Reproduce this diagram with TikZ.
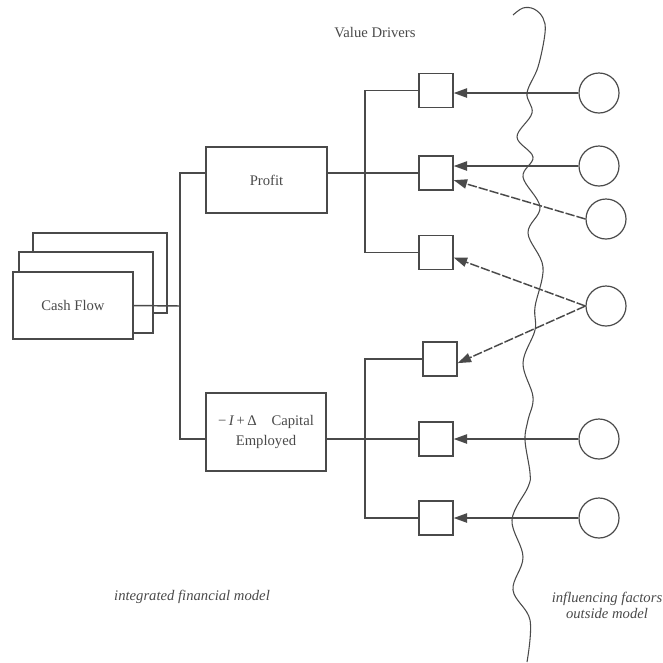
\documentclass[tikz,border=0pt]{standalone}
\usepackage{fontspec}
\setmainfont{Liberation Serif}
\usepackage{tikz}
\usetikzlibrary{arrows.meta,positioning,calc}
\definecolor{ink}{HTML}{4A4A4A}
\tikzset{
  >={Triangle[length=10pt,width=7pt]},
  box/.style={draw=ink,line width=1.1pt,fill=white,align=center,inner sep=2pt},
  vbox/.style={box,minimum width=25.5pt,minimum height=25.5pt,inner sep=0pt},
  fac/.style={draw=ink,line width=0.9pt,circle,minimum size=30pt,inner sep=0pt},
  wire/.style={draw=ink,line width=1.1pt},
  arr/.style={->,draw=ink,line width=1.1pt},
  darr/.style={->,draw=ink,line width=1.1pt,dash pattern=on 7pt off 1.5pt},
  lab/.style={font=\fontsize{11}{14.5}\selectfont,align=center,text=ink},
  ilab/.style={font=\fontsize{11}{12}\selectfont\itshape,align=center,text=ink},
}

\begin{document}
\begin{tikzpicture}[x=0.75pt,y=-0.75pt,every node/.style={lab}]
\useasboundingbox (0,0) rectangle (663,662);
% cash flow stack
\node[box,minimum width=100.5pt,minimum height=60pt] (cf3) at (100,273) {};
\node[box,minimum width=100.5pt,minimum height=60.75pt] (cf2) at (86,292.5) {};
\node[box,minimum width=90pt,minimum height=50.25pt] (cf) at (73,305.5) {Cash Flow};
\node[box,minimum width=90.75pt,minimum height=49.5pt] (pf) at (266.5,180) {Profit};
\node[box,minimum width=90pt,minimum height=58.5pt] (ce) at (266,432) {−\,\textit{I}\,+\,Δ\quad Capital\\Employed};
% value drivers
\node[vbox] (sq1) at (436,90.5) {};
\node[vbox] (sq2) at (436,173) {};
\node[vbox] (sq3) at (436,252.5) {};
\node[vbox] (sq4) at (440,359) {};
\node[vbox] (sq5) at (436,439) {};
\node[vbox] (sq6) at (436,518) {};
% outside factors
\node[fac] (c1) at (599,93) {};
\node[fac] (c2) at (599,166) {};
\node[fac] (c3) at (606,219) {};
\node[fac] (c4) at (606,306) {};
\node[fac] (c5) at (599,439) {};
\node[fac] (c6) at (599,518) {};
\coordinate (j0) at (180,306);
\coordinate (tu) at (365,173);
\coordinate (tl) at (365,439);
\draw[wire] (cf.east) -- (j0);
\draw[wire] ($(pf.west)+(0,-7)$) -| (j0) |- ($(ce.west)+(0,7)$);
\draw[wire] ($(pf.east)+(0,-7)$) -- (sq2.west);
\draw[wire] (sq1.west) -| (tu) |- (sq3.west);
\draw[wire] ($(ce.east)+(0,7)$) -- (sq5.west);
\draw[wire] (sq4.west) -| (tl) |- (sq6.west);
\draw[arr] (c1) -- (c1 -| sq1.east);
\draw[arr] (c2) -- (c2 -| sq2.east);
\draw[darr] (c3.west) -- (sq2.-22);
\draw[darr] (c4.west) -- (sq3.-16);
\draw[darr] (c4.west) -- (sq4.-13);
\draw[arr] (c5) -- (sq5);
\draw[arr] (c6) -- (sq6);
% model boundary
\draw[ink,line width=0.8pt] plot[smooth,tension=0.6] coordinates {(513,15) (523,8) (534,9) (543,18) (545,33) (538,67) (527,93) (532,113) (517,137) (533,157) (523,177) (540,207) (528,233) (543,267) (535,307) (535,330) (523,363) (533,397) (528,420) (525,440) (530,473) (528,487) (512,520) (523,557) (513,590) (530,620) (527,662)};
\node (vd) at (375,33) {Value Drivers};
\node[ilab] (inm) at (192,597) {integrated financial model};
\node[ilab] (ifo) at (607,605) {influencing factors\\outside model};
\end{tikzpicture}
\end{document}
